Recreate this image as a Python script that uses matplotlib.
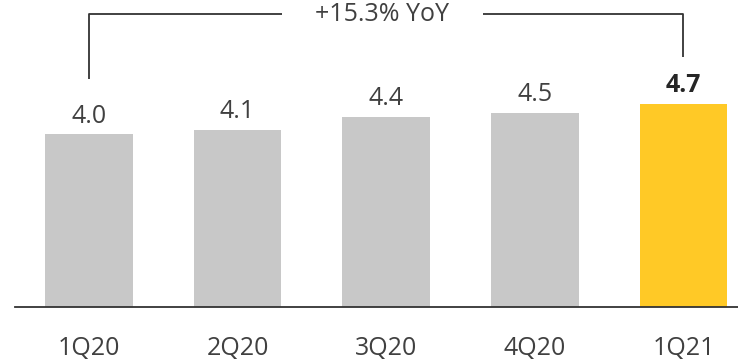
import matplotlib
matplotlib.use("Agg")
import matplotlib.pyplot as plt
import numpy as np

quarters = ["1Q20", "2Q20", "3Q20", "4Q20", "1Q21"]
values = [4.0, 4.1, 4.4, 4.5, 4.7]
yoy_label = "+15.3% YoY"

GRAY, YELLOW = "#c8c8c8", "#ffc926"
INK, LINE = "#404040", "#333333"

plt.rcParams["font.family"] = ["Open Sans", "DejaVu Sans"]

fig = plt.figure(figsize=(7.38, 3.63), dpi=100)
ax = fig.add_axes([15 / 738, 56 / 363, 1 - 15 / 738, 307 / 363])
x = np.arange(len(quarters))
colors = [GRAY] * (len(values) - 1) + [YELLOW]
ax.bar(x, values, width=0.59, color=colors, edgecolor="none")

for i, v in enumerate(values):
    last = i == len(values) - 1
    ax.annotate(f"{v:.1f}", (i, v), xytext=(0, 4), textcoords="offset points",
                ha="center", va="bottom", fontsize=18,
                color="#262626" if last else INK,
                fontweight="bold" if last else "normal")

# YoY bracket
y_top = 6.78
kw = dict(color=LINE, lw=1.3, clip_on=False, solid_capstyle="butt")
ax.plot([x[0], x[0], 1.30], [values[0] + 1.28, y_top, y_top], **kw)
ax.plot([2.65, x[-1], x[-1]], [y_top, y_top, values[-1] + 1.09], **kw)
ax.text((x[0] + x[-1]) / 2 - 0.03, y_top, yoy_label, ha="center", va="center",
        fontsize=18, color=INK)

ax.set_xlim(-0.498, 4.367)
ax.set_ylim(0, 7.106)
ax.set_xticks(x)
ax.set_xticklabels(quarters, fontsize=18, color=INK)
ax.tick_params(axis="x", length=0, pad=21)
ax.set_yticks([])
for s in ["top", "right", "left"]:
    ax.spines[s].set_visible(False)
ax.spines["bottom"].set_color(LINE)
ax.spines["bottom"].set_linewidth(1.3)

fig.savefig("out.png", dpi=100)
